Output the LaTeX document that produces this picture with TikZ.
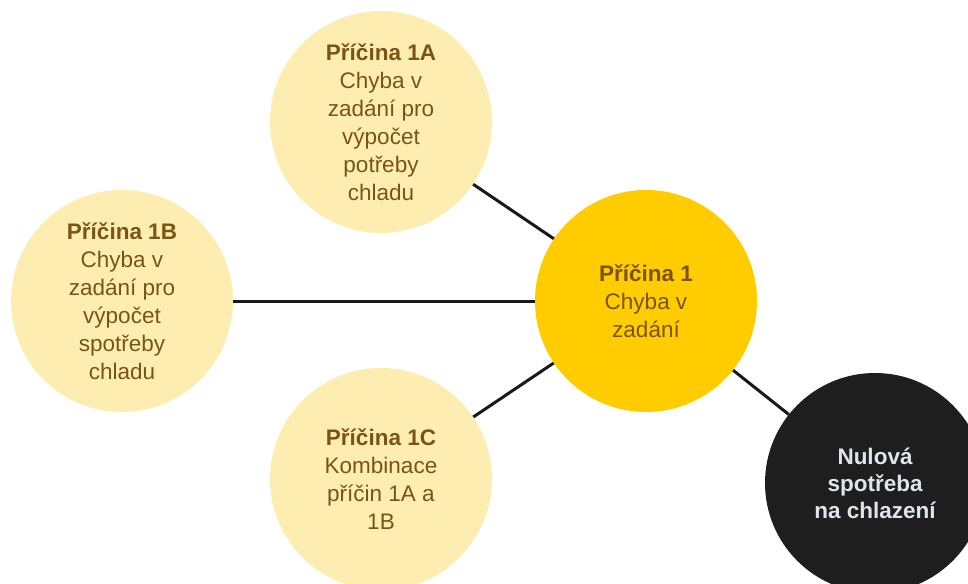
\documentclass[tikz,border=0pt]{standalone}
\usepackage{fontspec}
\setmainfont{Liberation Sans}
\definecolor{lightgold}{HTML}{FEEDB1}
\definecolor{gold}{HTML}{FFCC00}
\definecolor{brownText}{HTML}{7A5414}
\definecolor{darkCircle}{HTML}{1E1E1E}
\definecolor{paleText}{HTML}{DDE6EF}
\begin{document}
\begin{tikzpicture}[x=1pt,y=-1pt,
  cause/.style={circle, fill=lightgold, minimum size=222pt, inner sep=0pt, align=center,
    text=brownText, font=\fontsize{22.5}{28}\selectfont},
  main/.style={cause, fill=gold},
  result/.style={circle, fill=darkCircle, minimum size=220pt, inner sep=0pt, align=center,
    text=paleText, font=\fontsize{22.5}{27}\selectfont\bfseries},
  link/.style={draw=black!90, line width=3pt}]
\useasboundingbox (0,0) rectangle (968,583);
\fill[white] (0,0) rectangle (968,583);
\clip (0,0) rectangle (968,583);
\node[cause] (c1a) at (381,122) {\textbf{Příčina 1A}\\Chyba v\\zadání pro\\výpočet\\potřeby\\chladu};
\node[cause] (c1b) at (122,301) {\textbf{Příčina 1B}\\Chyba v\\zadání pro\\výpočet\\spotřeby\\chladu};
\node[cause] (c1c) at (381,479) {\textbf{Příčina 1C}\\Kombinace\\příčin 1A a\\1B};
\node[main] (c1) at (646,301) {\textbf{Příčina 1}\\Chyba v\\zadání};
\node[result] (res) at (875,483) {Nulová\\spotřeba\\na chlazení};
\draw[link] (c1a) -- (c1);
\draw[link] (c1b) -- (c1);
\draw[link] (c1c) -- (c1);
\draw[link] (c1) -- (res);
\end{tikzpicture}
\end{document}
